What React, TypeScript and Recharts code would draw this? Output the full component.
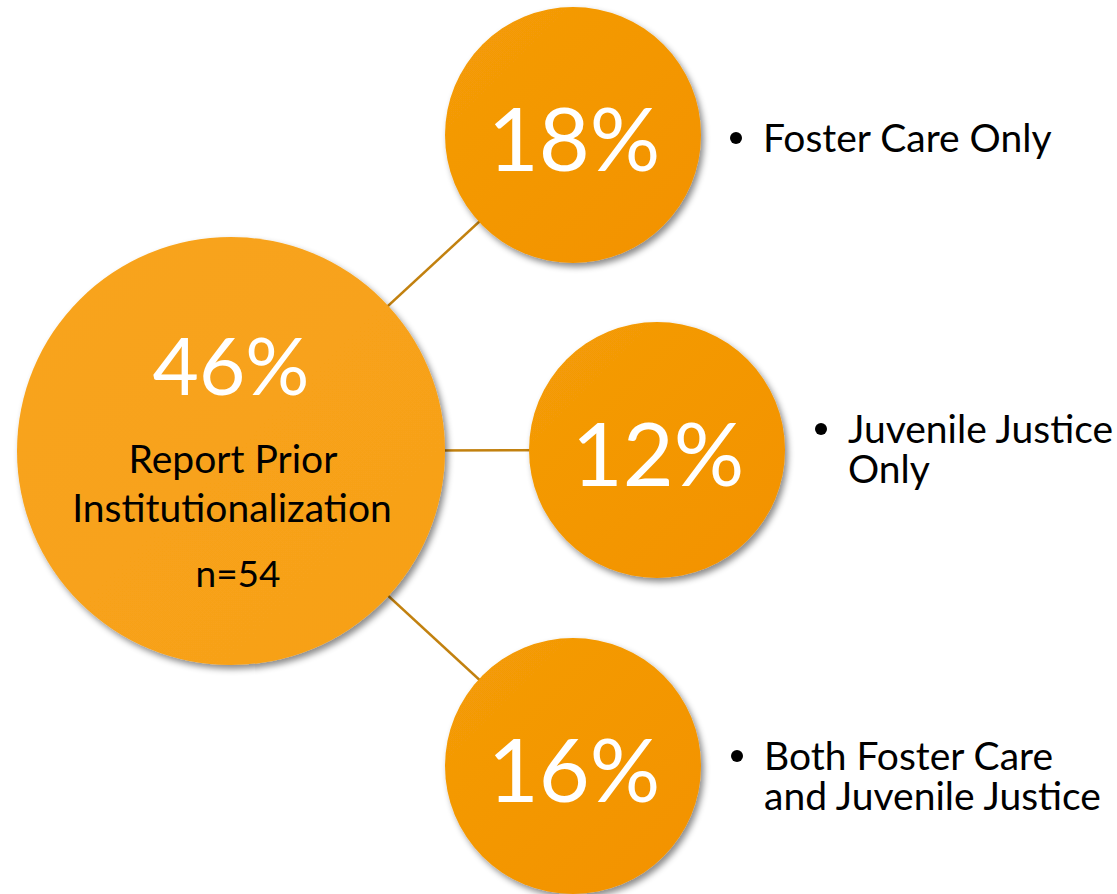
import { ScatterChart, Scatter, XAxis, YAxis } from 'recharts';

// values
const categories = ['Foster Care Only', 'Juvenile Justice Only', 'Both Foster Care and Juvenile Justice'];
const shares = [18, 12, 16];
const totalShare = 46;
const totalLabel = ['Report Prior', 'Institutionalization'];
const sampleSize = 54;
const categoryLines = [['Foster Care Only'], ['Juvenile Justice', 'Only'], ['Both Foster Care', 'and Juvenile Justice']];

// layout (chart units, 1 unit = 1px)
const W = 1117;
const H = 894;
const HUB = { x: 231, y: 451 };
const NODE_POS = [
  { x: 573, y: 135 },
  { x: 657, y: 450 },
  { x: 573, y: 766 },
];
const LABEL_POS = [
  { x: 736, y: 152 },
  { x: 821, y: 443 },
  { x: 737, y: 770 },
];
const HUB_R = 214;
const NODE_R = 128;
const FONT = 'Lato, "Open Sans", sans-serif';
const LINE_COLOR = '#C2810F';

const hubData = [{ ...HUB, value: totalShare, label: totalLabel, n: sampleSize }];
const nodeData = NODE_POS.map((p, i) => ({ ...p, value: shares[i], name: categories[i] }));
const labelData = LABEL_POS.map((p, i) => ({ ...p, lines: categoryLines[i] }));
const connectors = NODE_POS.map((p) => [HUB, p]);

const HubShape = (props: any) => {
  const { cx, cy, payload } = props;
  return (
    <g>
      <defs>
        <filter id="shadow" x="-20%" y="-20%" width="140%" height="140%">
          <feDropShadow dx="3" dy="4" stdDeviation="3" floodColor="#000" floodOpacity="0.45" />
        </filter>
        <linearGradient id="hubFill" x1="0" y1="0" x2="1" y2="1">
          <stop offset="0%" stopColor="#F8A41C" />
          <stop offset="100%" stopColor="#F7A018" />
        </linearGradient>
        <linearGradient id="nodeFill" x1="0" y1="0" x2="1" y2="1">
          <stop offset="0%" stopColor="#F49C08" />
          <stop offset="100%" stopColor="#F39200" />
        </linearGradient>
      </defs>
      <circle cx={cx} cy={cy} r={HUB_R} fill="url(#hubFill)" filter="url(#shadow)" />
      <text x={cx} y={cy - 56} textAnchor="middle" fill="#fff" fontSize={80} fontFamily={FONT}>
        {payload.value}%
      </text>
      <text x={cx + 2} y={cy + 22} textAnchor="middle" fill="#000" fontSize={39} fontFamily={FONT}>
        {payload.label[0]}
      </text>
      <text x={cx + 1} y={cy + 71} textAnchor="middle" fill="#000" fontSize={39} fontFamily={FONT}>
        {payload.label[1]}
      </text>
      <text x={cx + 7} y={cy + 136} textAnchor="middle" fill="#000" fontSize={37} fontFamily={FONT}>
        n={payload.n}
      </text>
    </g>
  );
};

const NodeShape = (props: any) => {
  const { cx, cy, payload } = props;
  return (
    <g>
      <circle cx={cx} cy={cy} r={NODE_R} fill="url(#nodeFill)" filter="url(#shadow)" />
      <text x={cx + 1} y={cy + 36} textAnchor="middle" fill="#fff" fontSize={88} fontFamily={FONT}>
        {payload.value}%
      </text>
    </g>
  );
};

const LabelShape = (props: any) => {
  const { cx, cy, payload } = props;
  return (
    <g>
      <circle cx={cx} cy={cy - 14} r={6} fill="#000" />
      {payload.lines.map((t: string, i: number) => (
        <text key={i} x={cx + 27} y={cy + i * 40} fill="#000" fontSize={39} fontFamily={FONT}>
          {t}
        </text>
      ))}
    </g>
  );
};

export default function App() {
  return (
    <div style={{ position: 'absolute', left: 0, top: 0, width: W, height: H, background: '#fff' }}>
      <ScatterChart width={W} height={H} margin={{ top: 0, right: 0, bottom: 0, left: 0 }}>
        <XAxis type="number" dataKey="x" domain={[0, W]} hide allowDataOverflow />
        <YAxis type="number" dataKey="y" domain={[0, H]} reversed hide allowDataOverflow />
        {connectors.map((seg, i) => (
          <Scatter
            key={`c-${i}`}
            data={seg}
            line={{ stroke: LINE_COLOR, strokeWidth: 2.5 }}
            shape={() => <g />}
            isAnimationActive={false}
          />
        ))}
        <Scatter data={hubData} shape={HubShape} isAnimationActive={false} />
        <Scatter data={nodeData} shape={NodeShape} isAnimationActive={false} />
        <Scatter data={labelData} shape={LabelShape} isAnimationActive={false} />
      </ScatterChart>
    </div>
  );
}
